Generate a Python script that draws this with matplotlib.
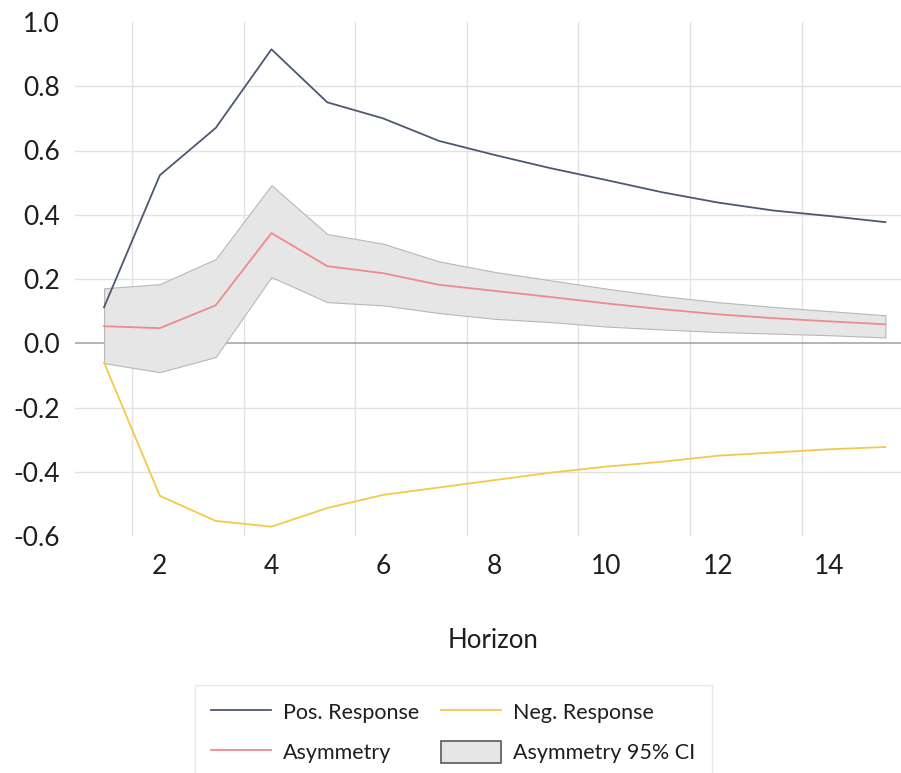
import matplotlib
matplotlib.use("Agg")
import matplotlib.pyplot as plt
from matplotlib.patches import Patch
from matplotlib.lines import Line2D
import numpy as np

plt.rcParams['font.family'] = ['Lato', 'DejaVu Sans']

horizon = list(range(1, 16))
pos_response = [0.112, 0.523, 0.670, 0.915, 0.750, 0.700, 0.630, 0.586, 0.545,
                0.508, 0.470, 0.438, 0.413, 0.396, 0.377]
neg_response = [-0.060, -0.475, -0.553, -0.571, -0.513, -0.472, -0.449, -0.426,
                -0.403, -0.384, -0.369, -0.350, -0.340, -0.330, -0.323]
asymmetry = [0.053, 0.047, 0.118, 0.343, 0.240, 0.218, 0.182, 0.163, 0.144,
             0.124, 0.106, 0.090, 0.078, 0.068, 0.059]
ci_upper = [0.171, 0.184, 0.262, 0.492, 0.340, 0.310, 0.255, 0.222, 0.196,
            0.170, 0.147, 0.128, 0.113, 0.100, 0.087]
ci_lower = [-0.062, -0.090, -0.043, 0.206, 0.128, 0.118, 0.094, 0.076, 0.066,
            0.052, 0.043, 0.035, 0.030, 0.025, 0.018]

y_ticks = [-0.6, -0.4, -0.2, 0.0, 0.2, 0.4, 0.6, 0.8, 1.0]
x_ticks = [2, 4, 6, 8, 10, 12, 14]

c_pos = '#4d5870'
c_neg = '#f3c94a'
c_asy = '#ef8a8a'
c_fill = '#e6e6e6'
c_fill_edge = '#b8b8b8'
c_grid = '#e2e2e2'
c_text = '#1e1e1e'

fig = plt.figure(figsize=(9.01, 7.73), dpi=100)
ax = fig.add_axes([75/901, 1-536/773, (901-75)/901, (536-22)/773])

ax.fill_between(horizon, ci_lower, ci_upper, facecolor=c_fill, edgecolor=c_fill_edge,
                linewidth=0.8, zorder=2)
ax.plot(horizon, pos_response, color=c_pos, lw=1.3, zorder=4)
ax.plot(horizon, neg_response, color=c_neg, lw=1.3, zorder=4)
ax.plot(horizon, asymmetry, color=c_asy, lw=1.3, zorder=4)

ax.set_xlim(0.48, 15.28)
ax.set_ylim(-0.6, 1.0)

# grid
for v in np.arange(1.5, 14.6, 2.0):
    ax.axvline(v, color=c_grid, lw=1.0, zorder=0)
for yv in y_ticks:
    if yv in (-0.6, 1.0):
        continue
    if yv == 0.0:
        ax.axhline(0, color='#a8a8a8', lw=1.2, zorder=1)
    else:
        ax.axhline(yv, color=c_grid, lw=1.0, zorder=0)

ax.set_xticks(x_ticks)
ax.set_xticklabels([str(t) for t in x_ticks])
ax.set_yticks(y_ticks)
ax.set_yticklabels([f"{t:.1f}" for t in y_ticks])
ax.tick_params(axis='both', length=0, labelsize=19, colors=c_text)
ax.tick_params(axis='y', pad=11)
ax.tick_params(axis='x', pad=13)
for s in ax.spines.values():
    s.set_visible(False)

fig.text(493/901, 1-640/773, 'Horizon', ha='center', va='center', fontsize=18.5, color=c_text)

handles = [
    Line2D([], [], color=c_pos, lw=1.3),
    Line2D([], [], color=c_neg, lw=1.3),
    Line2D([], [], color=c_asy, lw=1.3),
    Patch(facecolor=c_fill, edgecolor='#5a5a5a', linewidth=1.2),
]
labels = ['Pos. Response', 'Neg. Response', 'Asymmetry', 'Asymmetry 95% CI']
# column-major fill: col1 = Pos, Asym ; col2 = Neg, CI
order = [0, 2, 1, 3]
leg = fig.legend([handles[i] for i in order], [labels[i] for i in order],
                 ncol=2, loc='upper left', bbox_to_anchor=(195/901, 1-685/773),
                 fontsize=15.5, frameon=True, fancybox=False, edgecolor='#e4e4e4',
                 handlelength=2.8, handleheight=1.2, handletextpad=0.55,
                 columnspacing=1.0, labelspacing=0.8, borderpad=0.75,
                 borderaxespad=0)
for t in leg.get_texts():
    t.set_color(c_text)
leg.get_frame().set_linewidth(1.0)

fig.savefig('out.png', dpi=100, facecolor='white')
